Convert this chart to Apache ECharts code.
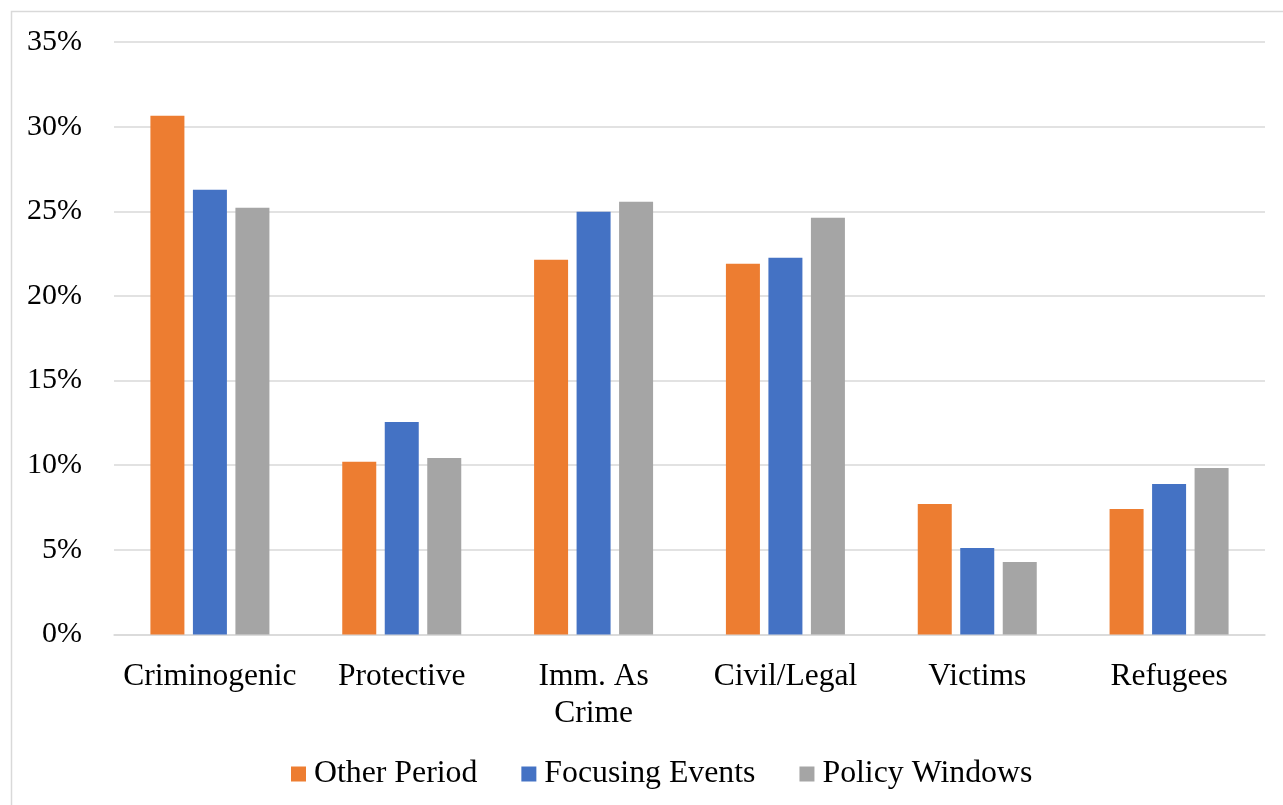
<!DOCTYPE html>
<html>
<head>
<meta charset="utf-8">
<script src="https://cdn.jsdelivr.net/npm/echarts@6/dist/echarts.min.js"></script>
<style>
  html, body { margin: 0; padding: 0; background: #ffffff; }
  #chart { width: 1283px; height: 805px; }
</style>
</head>
<body>
<div id="chart"></div>
<script>
// Frame categories (x axis)
const categories = ['Criminogenic', 'Protective', 'Imm. As\nCrime', 'Civil/Legal', 'Victims', 'Refugees'];

// Share of coverage per frame, in percent
const otherPeriod    = [30.64, 10.20, 22.13, 21.90, 7.71, 7.42];
const focusingEvents = [26.27, 12.56, 24.97, 22.25, 5.11, 8.89];
const policyWindows  = [25.21, 10.43, 25.56, 24.62, 4.28, 9.84];

const seriesNames = ['Other Period', 'Focusing Events', 'Policy Windows'];
const seriesColors = ['#ED7D31', '#4472C4', '#A5A5A5'];

const FONT = '"Liberation Serif", "Times New Roman", serif';

const chart = echarts.init(document.getElementById('chart'), null, { renderer: 'canvas' });

const seriesData = [otherPeriod, focusingEvents, policyWindows];

chart.setOption({
  backgroundColor: '#ffffff',
  animation: false,
  color: seriesColors,
  graphic: [{
    type: 'rect',
    shape: { x: 11.5, y: 11.5, width: 1300, height: 820 },
    style: { fill: 'none', stroke: '#d9d9d9', lineWidth: 1.5 },
    silent: true
  }],
  grid: { left: 114, right: 18, top: 42, bottom: 170.5, containLabel: false },
  legend: {
    data: seriesNames,
    top: 753,
    left: 286,
    itemWidth: 15,
    itemHeight: 15,
    itemGap: 44,
    icon: 'rect',
    textStyle: { fontFamily: FONT, fontSize: 31.8, color: '#000000', padding: [0, 0, 0, 3] }
  },
  xAxis: {
    type: 'category',
    data: categories,
    axisLine: { show: true, lineStyle: { color: '#d9d9d9', width: 1.5 } },
    axisTick: { show: false },
    axisLabel: {
      fontFamily: FONT,
      fontSize: 31.5,
      color: '#000000',
      margin: 24,
      lineHeight: 37,
      interval: 0
    }
  },
  yAxis: {
    type: 'value',
    min: 0,
    max: 35,
    interval: 5,
    axisLine: { show: false },
    axisTick: { show: false },
    splitLine: { lineStyle: { color: '#d9d9d9', width: 1.5 } },
    axisLabel: {
      fontFamily: FONT,
      fontSize: 30,
      color: '#000000',
      margin: 32,
      padding: [4, 0, 0, 0],
      formatter: v => v + '%'
    }
  },
  series: seriesNames.map((name, i) => ({
    name: name,
    type: 'bar',
    data: seriesData[i],
    barWidth: 34,
    barGap: '25%',
    itemStyle: { color: seriesColors[i] }
  }))
});
</script>
</body>
</html>
